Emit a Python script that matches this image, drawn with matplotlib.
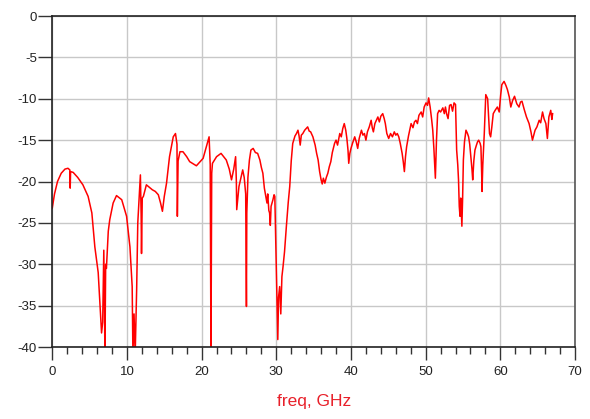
import matplotlib.pyplot as plt
from matplotlib.ticker import MultipleLocator

plt.rcParams['font.family'] = ['Liberation Sans', 'DejaVu Sans']
plt.rcParams['axes.unicode_minus'] = False

# frequency (GHz) and response (dB)
freq = [0.0, 0.3, 0.7, 1.2, 1.7, 2.1, 2.35, 2.4, 2.45, 2.8, 3.4, 4.1, 4.8, 5.3, 5.7,
        6.15, 6.4, 6.6, 6.75, 6.9, 7.0, 7.05, 7.15, 7.25, 7.5, 7.7, 8.15, 8.6, 9.3, 9.95,
        10.4, 10.7, 10.8, 10.95, 11.1, 11.3, 11.45, 11.7, 11.8, 11.9, 11.95, 12.05, 12.2, 12.6, 13.0,
        13.4, 13.8, 14.2, 14.5, 14.75, 15.0, 15.3, 15.7, 16.2, 16.5, 16.7, 16.75, 16.85, 17.1, 17.5,
        18.0, 18.4, 19.3, 20.2, 20.7, 21.0, 21.15, 21.25, 21.35, 21.45, 22.0, 22.6, 23.3, 23.7, 24.0,
        24.3, 24.55, 24.65, 24.7, 24.8, 25.0, 25.5, 25.7, 25.9, 26.0, 26.05, 26.2, 26.4, 26.6, 26.9,
        27.2, 27.5, 27.8, 28.0, 28.2, 28.4, 28.6, 28.75, 28.85, 29.0, 29.1, 29.2, 29.3, 29.45, 29.55,
        29.7, 29.8, 29.9, 30.0, 30.1, 30.2, 30.3, 30.45, 30.6, 30.75, 30.9, 31.1, 31.35, 31.6, 31.8,
        32.0, 32.2, 32.5, 32.7, 32.9, 33.05, 33.2, 33.35, 33.55, 33.8, 34.0, 34.2, 34.4, 34.6, 34.9,
        35.2, 35.4, 35.6, 35.8, 36.0, 36.15, 36.3, 36.5, 36.7, 36.9, 37.1, 37.3, 37.5, 37.8, 38.0,
        38.2, 38.5, 38.7, 38.9, 39.1, 39.3, 39.45, 39.6, 39.7, 39.85, 40.0, 40.2, 40.5, 40.7, 40.9,
        41.1, 41.4, 41.6, 41.8, 42.0, 42.2, 42.45, 42.7, 42.85, 43.0, 43.2, 43.4, 43.6, 43.8, 44.0,
        44.25, 44.45, 44.6, 44.8, 45.05, 45.3, 45.55, 45.8, 46.0, 46.2, 46.4, 46.6, 46.85, 47.0, 47.15,
        47.3, 47.45, 47.7, 48.05, 48.3, 48.5, 48.7, 48.9, 49.1, 49.4, 49.6, 49.8, 50.05, 50.25, 50.4,
        50.6, 50.8, 50.95, 51.1, 51.3, 51.45, 51.6, 51.8, 52.0, 52.3, 52.5, 52.65, 52.8, 53.0, 53.2,
        53.4, 53.6, 53.8, 54.0, 54.15, 54.3, 54.4, 54.5, 54.6, 54.7, 54.85, 54.95, 55.05, 55.2, 55.4,
        55.6, 55.75, 55.9, 56.05, 56.2, 56.3, 56.45, 56.6, 56.8, 56.95, 57.1, 57.3, 57.4, 57.5, 57.55,
        57.65, 57.85, 58.05, 58.3, 58.45, 58.55, 58.7, 58.85, 59.05, 59.3, 59.6, 59.85, 60.05, 60.2, 60.5,
        60.75, 60.95, 61.2, 61.4, 61.65, 61.9, 62.2, 62.5, 62.7, 62.9, 63.2, 63.5, 63.85, 64.1, 64.3,
        64.5, 64.65, 64.9, 65.2, 65.4, 65.65, 65.85, 66.1, 66.3, 66.5, 66.75, 66.9, 67.0]
s_db = [-23.2, -21.5, -20.0, -19.0, -18.5, -18.4, -18.6, -20.8, -18.8, -18.9, -19.5, -20.4, -21.8, -23.8, -27.9,
        -31.0, -35.1, -38.3, -37.0, -28.3, -36.0, -41.0, -30.0, -30.5, -26.0, -24.6, -22.6, -21.7, -22.2, -24.2,
        -27.9, -32.7, -41.0, -36.0, -41.0, -33.0, -25.0, -21.0, -19.2, -24.0, -28.7, -22.0, -21.8, -20.4, -20.7,
        -21.0, -21.2, -21.6, -22.6, -23.6, -21.8, -20.2, -17.0, -14.6, -14.2, -15.5, -24.2, -17.5, -16.4, -16.4,
        -17.0, -17.6, -18.1, -17.2, -15.6, -14.6, -18.0, -41.0, -19.0, -17.8, -17.0, -16.6, -17.4, -18.5, -19.8,
        -18.5, -17.0, -20.0, -23.4, -22.5, -20.6, -18.6, -19.5, -21.5, -35.1, -23.8, -19.5, -17.4, -16.2, -16.0,
        -16.5, -16.6, -17.4, -18.3, -19.0, -20.8, -21.8, -22.6, -21.5, -23.5, -23.8, -25.3, -23.0, -22.5, -22.2,
        -21.6, -21.8, -26.0, -29.9, -35.0, -39.1, -34.0, -32.7, -36.0, -31.5, -30.3, -28.5, -25.4, -22.5, -20.6,
        -17.5, -15.4, -14.5, -14.2, -13.8, -14.5, -15.6, -14.4, -14.2, -13.8, -13.6, -13.4, -13.9, -14.0, -14.6,
        -15.6, -16.6, -17.4, -18.8, -19.8, -20.3, -19.6, -20.2, -19.5, -19.0, -18.2, -17.6, -16.5, -15.4, -15.0,
        -15.6, -14.2, -14.6, -13.6, -13.0, -13.8, -14.8, -16.2, -17.8, -16.6, -16.0, -15.4, -14.6, -15.2, -16.0,
        -14.8, -13.8, -14.4, -14.2, -15.0, -14.0, -13.4, -12.6, -13.5, -14.0, -13.0, -12.6, -12.2, -12.8, -12.1,
        -11.8, -12.4, -13.0, -14.2, -14.8, -14.2, -14.6, -14.0, -14.4, -14.2, -14.6, -15.4, -16.6, -17.6, -18.8,
        -17.0, -15.8, -14.5, -13.0, -13.5, -12.8, -12.6, -13.0, -12.0, -11.6, -12.2, -11.0, -10.5, -10.8, -9.9,
        -11.0, -12.5, -13.8, -16.0, -19.6, -15.0, -11.8, -11.4, -11.6, -11.1, -11.8, -11.0, -11.8, -12.4, -10.8,
        -10.7, -11.5, -10.5, -10.7, -16.2, -18.0, -19.8, -23.0, -24.2, -22.0, -25.4, -22.0, -17.4, -15.2, -13.8,
        -14.2, -14.6, -15.5, -17.0, -18.5, -19.8, -17.5, -16.2, -15.6, -15.2, -15.0, -15.4, -15.8, -19.0, -21.2,
        -18.0, -14.2, -9.5, -10.0, -12.5, -14.2, -14.6, -13.5, -11.8, -11.4, -11.0, -11.6, -9.5, -8.3, -7.9,
        -8.4, -8.9, -9.8, -11.0, -10.2, -9.7, -10.6, -11.0, -10.4, -10.3, -11.3, -12.2, -13.0, -14.0, -15.0,
        -14.3, -13.8, -13.4, -12.6, -12.9, -11.6, -12.4, -13.0, -14.8, -12.2, -11.4, -12.5, -11.8]

fig = plt.figure(figsize=(5.9, 4.19), dpi=100)
ax = fig.add_axes([0.0886, 0.1718, 0.8860, 0.7900])

ax.plot(freq, s_db, color='#ff0000', lw=1.1)

ax.set_xlim(0, 70)
ax.set_ylim(-40, 0)
ax.xaxis.set_major_locator(MultipleLocator(10))
ax.xaxis.set_minor_locator(MultipleLocator(2))
ax.yaxis.set_major_locator(MultipleLocator(5))

ax.grid(True, which='major', color='#c8c8c8', lw=1.0)
ax.set_axisbelow(True)

ax.tick_params(axis='x', which='major', length=9.5, width=1, pad=4, labelsize=9.5,
               colors='#333333', labelcolor='#222222')
ax.tick_params(axis='x', which='minor', length=5, width=1, color='#333333')
ax.tick_params(axis='y', which='major', length=10, width=1, pad=1, labelsize=9.5,
               colors='#333333', labelcolor='#222222')

for side in ['left', 'bottom', 'top']:
    ax.spines[side].set_color('#222222')
    ax.spines[side].set_linewidth(1.2)
ax.spines['right'].set_color('#555555')
ax.spines['right'].set_linewidth(1.2)

ax.set_xlabel('freq, GHz', color='#e8202a', fontsize=12.5, labelpad=12)

plt.savefig('out.png', dpi=100)
